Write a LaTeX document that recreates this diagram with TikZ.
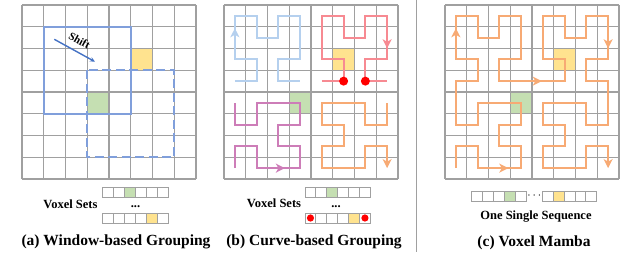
\documentclass[tikz,border=0pt]{standalone}
\usepackage{fontspec}
\setmainfont{Liberation Serif}
\usetikzlibrary{arrows.meta}
\definecolor{gridc}{HTML}{A0A0A0}
\definecolor{yelc}{HTML}{FFE38F}
\definecolor{grnc}{HTML}{C5DFB2}
\definecolor{winc}{HTML}{809FDB}
\definecolor{shiftc}{HTML}{4472C4}
\definecolor{bluec}{HTML}{B5D0EE}
\definecolor{redc}{HTML}{F78A92}
\definecolor{purc}{HTML}{CD7DB8}
\definecolor{orac}{HTML}{F7AA74}
\definecolor{dotc}{HTML}{FF0000}
\begin{document}
\begin{tikzpicture}[x=1pt,y=-1pt,
  gridline/.style={draw=gridc,line width=1.2pt},
  seqcell/.style={draw=gridc,line width=1pt},
  curve/.style={line width=2.2pt},
  tipst/.style={-{Stealth[length=9pt,width=9pt,inset=2.5pt]}},
  win/.style={draw=winc,line width=2.2pt},
  lab/.style={font=\fontsize{12.5}{14}\selectfont\bfseries},
  captext/.style={font=\fontsize{15.5}{18}\selectfont\bfseries}]
\useasboundingbox (0,0) rectangle (640,271);

% ---------------- Panel (a) ----------------
\begin{scope}[xshift=22pt,yshift=-5pt,x=21.75pt,y=-21.75pt]
  \fill[yelc] (5,2) rectangle (6,3);
  \fill[grnc] (3,4) rectangle (4,5);
  \foreach \i in {0,...,8} {
    \draw[gridline] (\i,0) -- (\i,8);
    \draw[gridline] (0,\i) -- (8,\i);
  }
  \draw[win] (1,1) rectangle (5,5);
  \draw[win,dash pattern=on 9pt off 4.5pt] (3,3) rectangle (7,7);
\end{scope}
\coordinate (shA) at (54.3,39.3);
\coordinate (shB) at (95,61.7);
\draw[shiftc,line width=1.4pt,-{Stealth[length=5pt,width=4.5pt]}] (shA) -- (shB);
\node[font=\fontsize{11}{13}\selectfont\bfseries,rotate=-29,inner sep=0pt] (shiftlab) at (79.5,40.5) {Shift};

% sequences (a)
\fill[grnc] (102.7+2*10.93,187.5) rectangle ++(10.93,10);
\fill[yelc] (102.7+4*10.93,213) rectangle ++(10.93,10);
\foreach \k in {0,...,5} {
  \draw[seqcell] (102.7+\k*10.93,187.5) rectangle ++(10.93,10);
  \draw[seqcell] (102.7+\k*10.93,213) rectangle ++(10.93,10);
}
\node[lab,anchor=base] (vsa) at (70.5,208.3) {Voxel Sets};
\node[lab,anchor=base] (dotsa) at (135.5,207) {...};
\node[captext,anchor=base] (capa) at (116,245) {(a) Window-based Grouping};

% ---------------- Panel (b) ----------------
\begin{scope}[xshift=224pt,yshift=-5pt,x=21.75pt,y=-21.75pt]
  \fill[yelc] (5,2) rectangle (6,3);
  \fill[grnc] (3,4) rectangle (4,5);
  \foreach \i in {0,...,8} {
    \draw[gridline] (\i,0) -- (\i,8);
    \draw[gridline] (0,\i) -- (8,\i);
  }
  \begin{scope}[shift={(0.5,0.5)}]
    \draw[curve,bluec] (0,3)--(1,3)--(1,2)--(0,2)--(0,0)--(1,0)--(1,1)--(2,1)--(2,0)--(3,0)--(3,2)--(2,2)--(2,3)--(3,3);
    \draw[curve,bluec,tipst] (0,2) -- (0,0.57);
    \draw[curve,redc] (4,3)--(5,3)--(5,2)--(4,2)--(4,0)--(5,0)--(5,1)--(6,1)--(6,0)--(7,0)--(7,2)--(6,2)--(6,3)--(7,3);
    \draw[curve,redc,tipst] (7,0) -- (7,1.49);
    \fill[dotc] (5,3) circle[radius=4.5pt];
    \fill[dotc] (6,3) circle[radius=4.5pt];
    \draw[curve,purc] (0,7)--(0,6)--(1,6)--(1,7)--(3,7)--(3,6)--(2,6)--(2,5)--(3,5)--(3,4)--(1,4)--(1,5)--(0,5)--(0,4);
    \draw[curve,purc,tipst] (1,7) -- (2.3,7);
    \draw[curve,orac,tipst] (7,4)--(7,5)--(6,5)--(6,4)--(4,4)--(4,5)--(5,5)--(5,6)--(4,6)--(4,7)--(6,7)--(6,6)--(7,6)--(7,7);
  \end{scope}
\end{scope}

% sequences (b)
\fill[grnc] (305+2*10.9,187.5) rectangle ++(10.9,10);
\fill[yelc] (305+4*10.9,213) rectangle ++(10.9,10);
\foreach \k in {0,...,5} {
  \draw[seqcell] (305+\k*10.9,187.5) rectangle ++(10.9,10);
  \draw[seqcell] (305+\k*10.9,213) rectangle ++(10.9,10);
}
\fill[dotc] (305+5.45,218) circle[radius=3.6pt];
\fill[dotc] (305+5*10.9+5.45,218) circle[radius=3.6pt];
\node[lab,anchor=base] (vsb) at (274,207.5) {Voxel Sets};
\node[lab,anchor=base] (dotsb) at (336,207) {...};
\node[captext,anchor=base] (capb) at (314,245.5) {(b) Curve-based Grouping};

% separator
\coordinate (sepT) at (416.7,0);
\coordinate (sepB) at (416.7,252);
\draw[gridc,line width=1.2pt] (sepT) -- (sepB);

% ---------------- Panel (c) ----------------
\begin{scope}[xshift=445pt,yshift=-5pt,x=21.75pt,y=-21.75pt]
  \fill[yelc] (5,2) rectangle (6,3);
  \fill[grnc] (3,4) rectangle (4,5);
  \foreach \i in {0,...,8} {
    \draw[gridline] (\i,0) -- (\i,8);
    \draw[gridline] (0,\i) -- (8,\i);
  }
  \begin{scope}[shift={(0.5,0.5)}]
    \draw[curve,orac,tipst] (0,7)--(0,6)--(1,6)--(1,7)--(3,7)--(3,6)--(2,6)--(2,5)--(3,5)--(3,4)--(1,4)--(1,5)--(0,5)--(0,3)--(1,3)--(1,2)--(0,2)--(0,0)--(1,0)--(1,1)--(2,1)--(2,0)--(3,0)--(3,2)--(2,2)--(2,3)--(5,3)--(5,2)--(4,2)--(4,0)--(5,0)--(5,1)--(6,1)--(6,0)--(7,0)--(7,2)--(6,2)--(6,3)--(7,3)--(7,5)--(6,5)--(6,4)--(4,4)--(4,5)--(5,5)--(5,6)--(4,6)--(4,7)--(6,7)--(6,6)--(7,6)--(7,7);
    \draw[curve,orac,tipst] (1,7) -- (2.41,7);
    \draw[curve,orac,tipst] (0,2) -- (0,0.57);
    \draw[curve,orac,tipst] (2,3) -- (3.95,3);
    \draw[curve,orac,tipst] (7,0) -- (7,1.49);
  \end{scope}
\end{scope}

% sequence (c)
\fill[grnc] (471.7+3*10.86,191.5) rectangle ++(10.86,9.5);
\fill[yelc] (542.7+1*10.8,191.5) rectangle ++(10.8,9.5);
\foreach \k in {0,...,4} {
  \draw[seqcell] (471.7+\k*10.86,191.5) rectangle ++(10.86,9.5);
  \draw[seqcell] (542.7+\k*10.8,191.5) rectangle ++(10.8,9.5);
}
\node[lab] (dotsc) at (534.3,196) {$\cdots$};
\node[lab,anchor=base] (oss) at (536,219.5) {One Single Sequence};
\node[captext,anchor=base] (capc) at (534,246) {(c) Voxel Mamba};
\end{tikzpicture}
\end{document}
